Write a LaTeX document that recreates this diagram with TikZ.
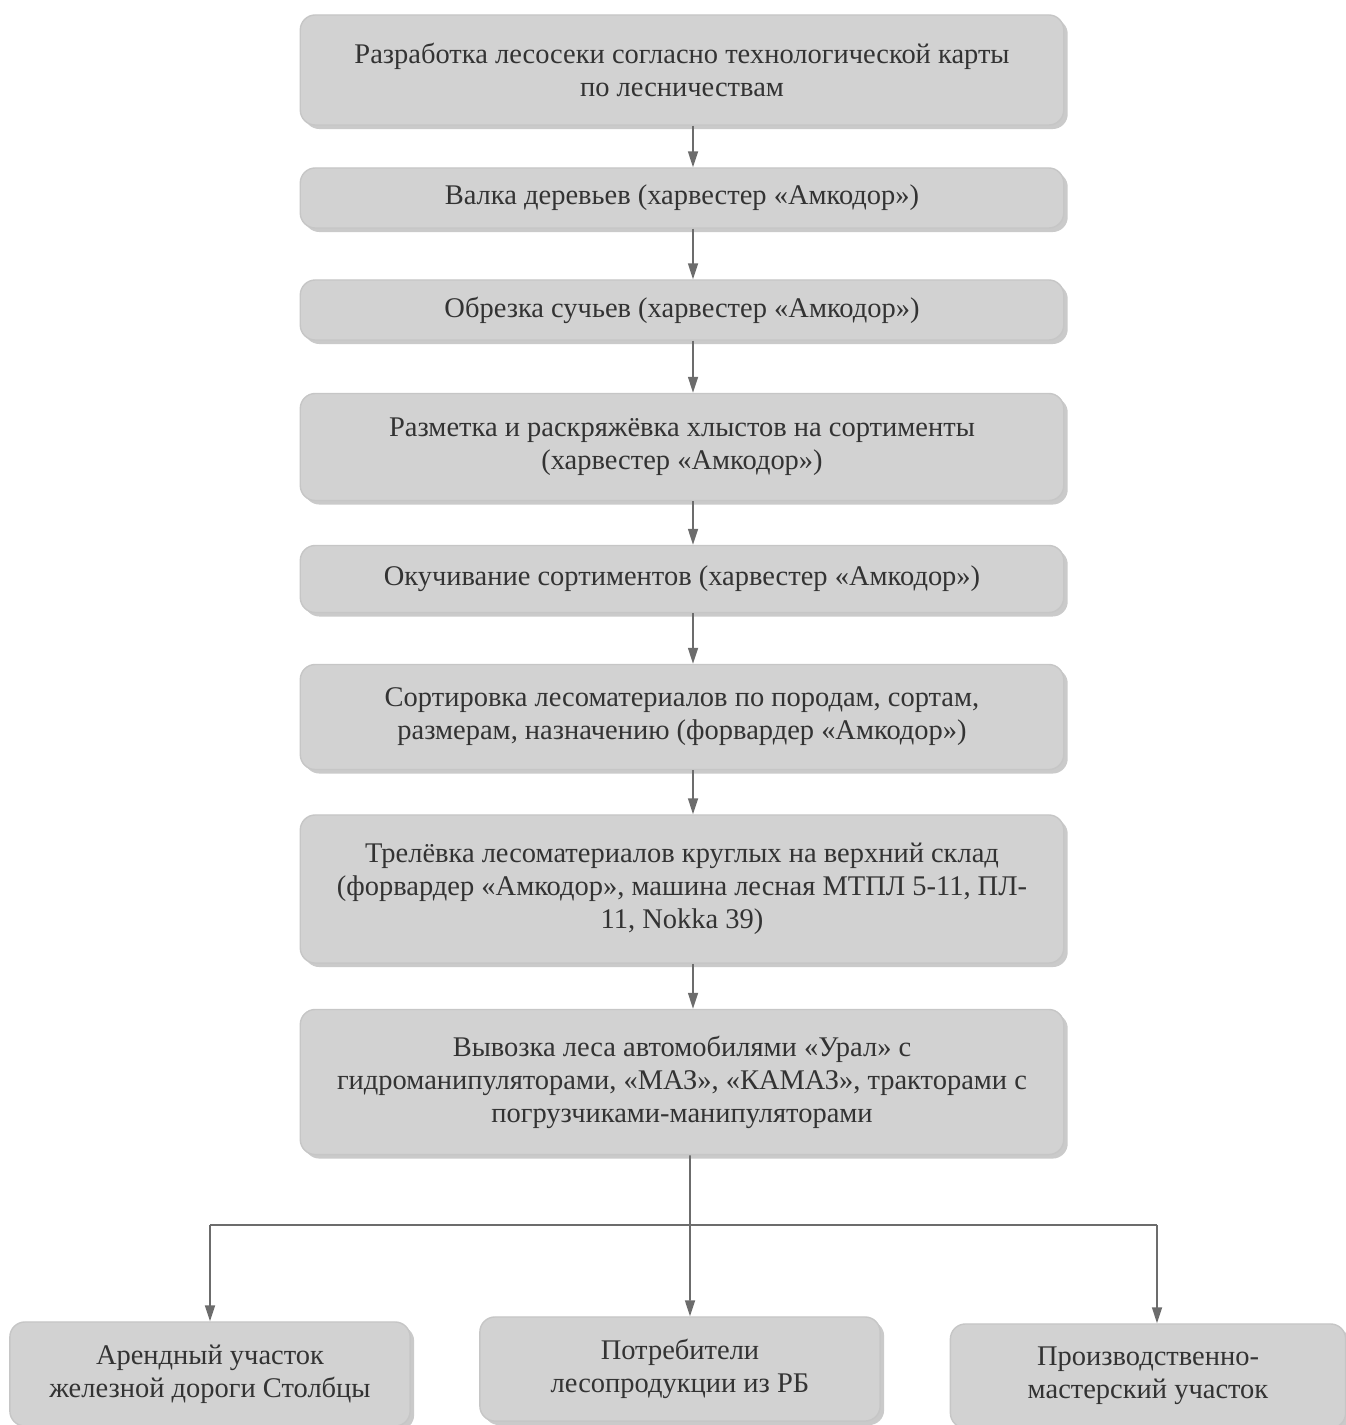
\documentclass[tikz,border=0pt]{standalone}
\usepackage{fontspec}
\setmainfont{Liberation Serif}
\usetikzlibrary{shadows,arrows.meta}
\tikzset{
  etap/.style={draw=gray!45, fill=gray!35, rounded corners=0.15cm, align=center,
    text=black!80, minimum width=7.63cm, font=\fontsize{8.1}{9.4}\selectfont,
    drop shadow={shadow xshift=0.04cm, shadow yshift=-0.04cm, fill=gray!70, opacity=0.6}},
  itog/.style={etap, minimum width=4cm, minimum height=1.04cm},
  liniya/.style={draw=gray!85!black, line width=0.5pt},
  strelka/.style={liniya, -{Triangle[length=0.16cm,width=0.1cm]}},
}
\begin{document}
\begin{tikzpicture}[x=0.01cm,y=-0.01cm]
  \useasboundingbox (0,0) rectangle (1345,1425);
  % технологическая цепочка
  \node[etap, minimum height=1.10cm] (b1) at (682,70)
    {Разработка лесосеки согласно технологической карты\\по лесничествам};
  \node[etap, minimum height=0.60cm] (b2) at (682,198)
    {Валка деревьев (харвестер «Амкодор»)};
  \node[etap, minimum height=0.60cm] (b3) at (682,310)
    {Обрезка сучьев (харвестер «Амкодор»)};
  \node[etap, minimum height=1.07cm] (b4) at (682,447)
    {Разметка и раскряжёвка хлыстов на сортименты\\(харвестер «Амкодор»)};
  \node[etap, minimum height=0.67cm] (b5) at (682,579)
    {Окучивание сортиментов (харвестер «Амкодор»)};
  \node[etap, minimum height=1.05cm] (b6) at (682,717)
    {Сортировка лесоматериалов по породам, сортам,\\размерам, назначению (форвардер «Амкодор»)};
  \node[etap, minimum height=1.48cm] (b7) at (682,889)
    {Трелёвка лесоматериалов круглых на верхний склад\\(форвардер «Амкодор», машина лесная МТПЛ 5-11, ПЛ-\\11, Nokka 39)};
  \node[etap, minimum height=1.45cm] (b8) at (682,1082)
    {Вывозка леса автомобилями «Урал» с\\гидроманипуляторами, «МАЗ», «КАМАЗ», тракторами с\\погрузчиками-манипуляторами};
  % получатели
  \node[itog] (l) at (210,1374) {Арендный участок\\железной дороги Столбцы};
  \node[itog] (m) at (680,1369) {Потребители\\лесопродукции из РБ};
  \node[itog, minimum width=3.95cm] (r) at (1148,1376) {Производственно-\\мастерский участок};

  \foreach \a/\b in {b1/b2,b2/b3,b3/b4,b4/b5,b5/b6,b6/b7,b7/b8}
    \draw[strelka] ([xshift=0.11cm]\a.south) -- ([xshift=0.11cm]\b.north);

  \coordinate (vilka) at (690,1225);
  \coordinate (rverh) at ([xshift=0.09cm]r.north);
  \draw[strelka] ([xshift=0.08cm]b8.south) -- ([xshift=0.1cm]m.north);
  \draw[liniya] (vilka -| l.north) -- (vilka -| rverh);
  \draw[strelka] (vilka -| l.north) -- (l.north);
  \draw[strelka] (vilka -| rverh) -- (rverh);
\end{tikzpicture}
\end{document}
